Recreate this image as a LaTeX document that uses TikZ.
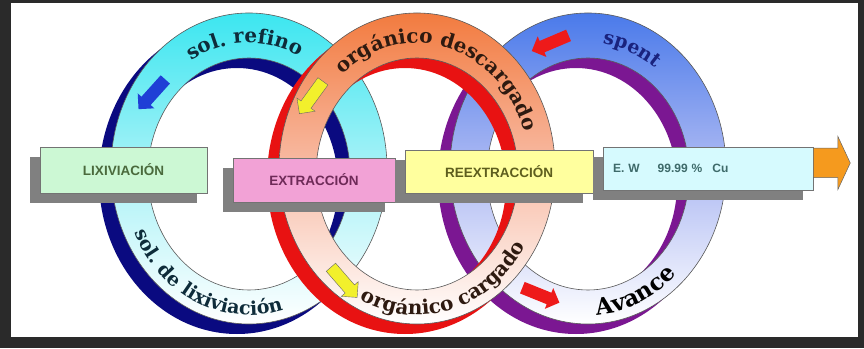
\documentclass[tikz,border=0pt]{standalone}
\usepackage{fontspec}
\usepackage{xcolor}
\newfontfamily\ringfont{DejaVu Serif}
\newfontfamily\boxfont{Liberation Sans}
\usetikzlibrary{decorations.text}
\usetikzlibrary{shapes}
\usetikzlibrary{shadows}

\definecolor{framegray}{HTML}{2A2A2A}
\definecolor{cyanband}{HTML}{3CE6F0}
\definecolor{cyanmid}{HTML}{A8F2F7}
\definecolor{navyring}{HTML}{0A0A80}
\definecolor{orangeband}{HTML}{F27B3F}
\definecolor{salmonmid}{HTML}{F8BCA6}
\definecolor{redring}{HTML}{E81212}
\definecolor{blueband}{HTML}{4A7AEA}
\definecolor{bluemid}{HTML}{AEBAF3}
\definecolor{purplering}{HTML}{7B1792}
\definecolor{lixfill}{HTML}{CCF8D4}
\definecolor{extfill}{HTML}{F2A2D6}
\definecolor{reextfill}{HTML}{FFFF9E}
\definecolor{ewfill}{HTML}{D6FAFE}
\definecolor{lixtext}{HTML}{4A6A3C}
\definecolor{exttext}{HTML}{6E2A58}
\definecolor{reexttext}{HTML}{5E5E1E}
\definecolor{ewtext}{HTML}{3E6A6A}
\definecolor{outorange}{HTML}{F59A1E}
\definecolor{arrowblue}{HTML}{1F3FD6}
\definecolor{arrowyellow}{HTML}{F2F02C}
\definecolor{arrowred}{HTML}{EE1A1A}
\definecolor{lefttext}{HTML}{0E2C3A}
\definecolor{midtext}{HTML}{2E1A10}
\definecolor{spenttext}{HTML}{1A237E}

\newcommand\ringtext{\ringfont\bfseries\fontsize{20}{24}\selectfont}

\tikzset{
  band/.style={even odd rule, draw=black!65, line width=0.6pt},
  wall/.style={even odd rule},
  stage/.style={draw=black!55, line width=0.7pt, inner sep=0pt,
    font=\boxfont\bfseries\fontsize{13.5}{15}\selectfont,
    drop shadow={shadow xshift=-10pt, shadow yshift=-10pt, fill=black!50, opacity=1}},
  flow/.style={single arrow, single arrow head extend=5pt, minimum height=40pt,
    minimum width=22pt, inner xsep=0pt, inner ysep=6pt},
}

\begin{document}
\begin{tikzpicture}[x=1pt, y=1pt]
\useasboundingbox (0,0) rectangle (864,348);
\fill[framegray] (0,0) rectangle (864,348);
\fill[white] (11,11) rectangle (858,345);

% lixiviacion ring
\fill[wall, navyring]
  (237,169.5) ellipse [x radius=138, y radius=155.5]
  (237,164) ellipse [x radius=101, y radius=116];
\shade[band, top color=cyanband, bottom color=white, middle color=cyanmid]
  (249,179.5) ellipse [x radius=138, y radius=155.5]
  (249,174) ellipse [x radius=101, y radius=116];
\path[decorate, decoration={text along path, text align=center,
    text={|\ringtext\color{lefttext}|sol. refino}}]
  (249,177) ++(172:113 and 128) arc[start angle=172, end angle=12, x radius=113, y radius=128];
\path[decorate, decoration={text along path, text align=center,
    text={|\ringtext\fontsize{19}{23}\selectfont\color{lefttext}|sol. de lixiviación}}]
  (249,177) ++(167:127 and 144) arc[start angle=167, end angle=327, x radius=127, y radius=144];
\node[flow, fill=arrowblue, rotate=228] (refino) at (154,256) {};

% reextraccion ring
\fill[wall, purplering]
  (576,169.5) ellipse [x radius=138, y radius=155.5]
  (576,164) ellipse [x radius=101, y radius=116];
\shade[band, top color=blueband, bottom color=white, middle color=bluemid]
  (588,179.5) ellipse [x radius=138, y radius=155.5]
  (588,174) ellipse [x radius=101, y radius=116];
\path[decorate, decoration={text along path, text align=center,
    text={|\ringtext\fontsize{19}{23}\selectfont\color{spenttext}|spent}}]
  (588,177) ++(140:113 and 128) arc[start angle=140, end angle=0, x radius=113, y radius=128];
\path[decorate, decoration={text along path, text align=center,
    text={|\ringtext\fontsize{23}{27}\selectfont\color{black}|Avance}}]
  (588,177) ++(222:127 and 144) arc[start angle=222, end angle=362, x radius=127, y radius=144];
\node[flow, fill=arrowred, rotate=203] (spentin) at (553,306) {};
\node[flow, fill=arrowred, rotate=-22] (avance) at (538,54) {};

% extraccion ring
\fill[wall, redring]
  (405,169.5) ellipse [x radius=138, y radius=155.5]
  (405,164) ellipse [x radius=101, y radius=116];
\shade[band, top color=orangeband, bottom color=white, middle color=salmonmid]
  (417,179.5) ellipse [x radius=138, y radius=155.5]
  (417,174) ellipse [x radius=101, y radius=116];
\path[decorate, decoration={text along path, text align=center,
    text={|\ringtext\color{midtext}|orgánico descargado}}]
  (417,177) ++(165:113 and 128) arc[start angle=165, end angle=-15, x radius=113, y radius=128];
\path[decorate, decoration={text along path, text align=center,
    text={|\ringtext\color{midtext}|orgánico cargado}}]
  (417,177) ++(195:127 and 144) arc[start angle=195, end angle=375, x radius=127, y radius=144];
\node[flow, fill=arrowyellow, draw=black!60, line width=0.4pt, rotate=234] (descargado) at (313,253) {};
\node[flow, fill=arrowyellow, draw=black!60, line width=0.4pt, rotate=-49] (cargado) at (342,68) {};

% etapas
\node[stage, fill=lixfill, text=lixtext, minimum width=167pt, minimum height=46pt] (lix) at (123.5,178) {LIXIVIACIÓN};
\node[stage, fill=extfill, text=exttext, minimum width=162pt, minimum height=44pt] (ext) at (314,168) {EXTRACCIÓN};
\node[stage, fill=reextfill, text=reexttext, minimum width=188pt, minimum height=43pt] (reext) at (499,176.5) {REEXTRACCIÓN};
\node[stage, fill=ewfill, text=ewtext, minimum width=210pt, minimum height=43pt,
      font=\boxfont\bfseries\fontsize{12}{14}\selectfont,
      text width=190pt, align=left] (ew) at (708,179.5) {E. W\hspace{18pt}99.99 \%\hspace{10pt}Cu};
\node[single arrow, single arrow head extend=12pt, single arrow tip angle=130,
      minimum height=37pt, minimum width=53pt, inner xsep=0pt, inner ysep=14.5pt, anchor=tail,
      fill=outorange, draw=black!60, line width=0.5pt] (cu) at (813,185) {};
\end{tikzpicture}
\end{document}
